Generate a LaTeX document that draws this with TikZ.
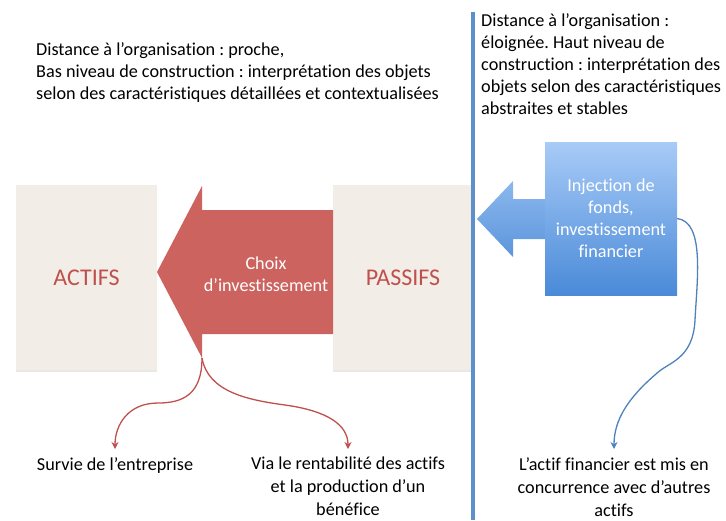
\documentclass[tikz,border=0pt]{standalone}
\usepackage{fontspec}
\setmainfont{Carlito}[Ligatures=NoCommon]
\frenchspacing
\usetikzlibrary{positioning,arrows.meta,shadows}

\definecolor{beige}{RGB}{242,238,231}
\definecolor{rouge}{RGB}{204,99,95}
\definecolor{rougetexte}{RGB}{192,80,77}
\definecolor{bleuligne}{RGB}{92,144,202}
\definecolor{bleuhaut}{RGB}{168,203,247}
\definecolor{bleubas}{RGB}{74,138,216}
\definecolor{bleucourbe}{RGB}{79,129,189}

\tikzset{
  bloc/.style={fill=beige, minimum width=141pt, minimum height=185pt, inner sep=0pt,
    text=rougetexte, font=\fontsize{24}{28}\selectfont,
    drop shadow={opacity=0.18, shadow xshift=0pt, shadow yshift=-2pt}},
  note/.style={font=\fontsize{18.2}{22}\selectfont, align=left, inner sep=0pt},
  legende/.style={font=\fontsize{18.2}{23}\selectfont, align=center, inner xsep=0pt, inner ysep=8pt, anchor=north},
  courbe/.style={line width=1.3pt, -{Stealth[length=7pt, width=7pt]}},
}

\begin{document}
\begin{tikzpicture}[x=1pt, y=-1pt]

    \useasboundingbox (0,0) rectangle (726,520);

    % ================================================================================================
    % blocs
    % ================================================================================================
    \node [bloc] (actifs) at (86.5,277.5) {ACTIFS};
    \node [bloc, minimum width=140pt] (passifs) at (403,277.5) {PASSIFS};

    % ================================================================================================
    % fleches
    % ================================================================================================
    \fill [rouge] (333,210) -- (202,210) -- (202,186) -- (157,272) -- (202,358) -- (202,334) -- (333,334) -- cycle;
    \node [text=white, align=center, font=\fontsize{18.2}{21.5}\selectfont] (choix) at (266,274) {Choix\\d’investissement};

    \shade [top color=bleuhaut!70!bleubas, bottom color=bleubas!90!white]
    (545,199) -- (513,199) -- (513,181) -- (477,219) -- (513,257) -- (513,239) -- (545,239) -- cycle;

    \node [shade, top color=bleuhaut, bottom color=bleubas, minimum width=132pt, minimum height=153pt,
    inner sep=0pt, text=white, align=center, font=\fontsize{18.2}{22}\selectfont] (injection) at (611,218.5)
    {Injection de\\fonds,\\investissement\\financier};

    % ================================================================================================
    % separation
    % ================================================================================================
    \coordinate (sep-haut) at (473,12);
    \coordinate (sep-bas) at (473,520);
    \draw [bleuligne, line width=4pt] (sep-haut) -- (sep-bas);

    % ================================================================================================
    % notes
    % ================================================================================================
    \node [note, anchor=north west] (proche) at (36,42)
    {Distance à l’organisation : proche,\\Bas niveau de construction : interprétation des objets\\selon des caractéristiques détaillées et contextualisées};

    \node [note, anchor=north west] (eloignee) at (481,13)
    {Distance à l’organisation :\\éloignée. Haut niveau de\\construction : interprétation des\\objets selon des caractéristiques\\abstraites et stables};

    % ================================================================================================
    % consequences
    % ================================================================================================
    \node [legende] (survie) at (115,449) {Survie de l’entreprise};
    \node [legende] (rentabilite) at (348,449) {Via le rentabilité des actifs\\et la production d’un\\bénéfice};
    \node [legende] (concurrence) at (614,449) {L’actif financier est mis en\\concurrence avec d’autres\\actifs};

    \coordinate (pointe) at (202,358);
    \draw [courbe, rougetexte] (pointe) .. controls (202,395) and (182,403) .. (158,403)
    .. controls (128,403) and (115,425) .. (survie.north);
    \draw [courbe, rougetexte] (pointe) .. controls (208,392) and (248,400) .. (285,405)
    .. controls (328,411) and (348,425) .. (rentabilite.north);
    \draw [courbe, bleucourbe] (injection.east) .. controls (705,222) and (697,280) .. (695,320)
    .. controls (693,360) and (668,362) .. (656,374) .. controls (628,398) and (614,420) .. (concurrence.north);

\end{tikzpicture}
\end{document}
